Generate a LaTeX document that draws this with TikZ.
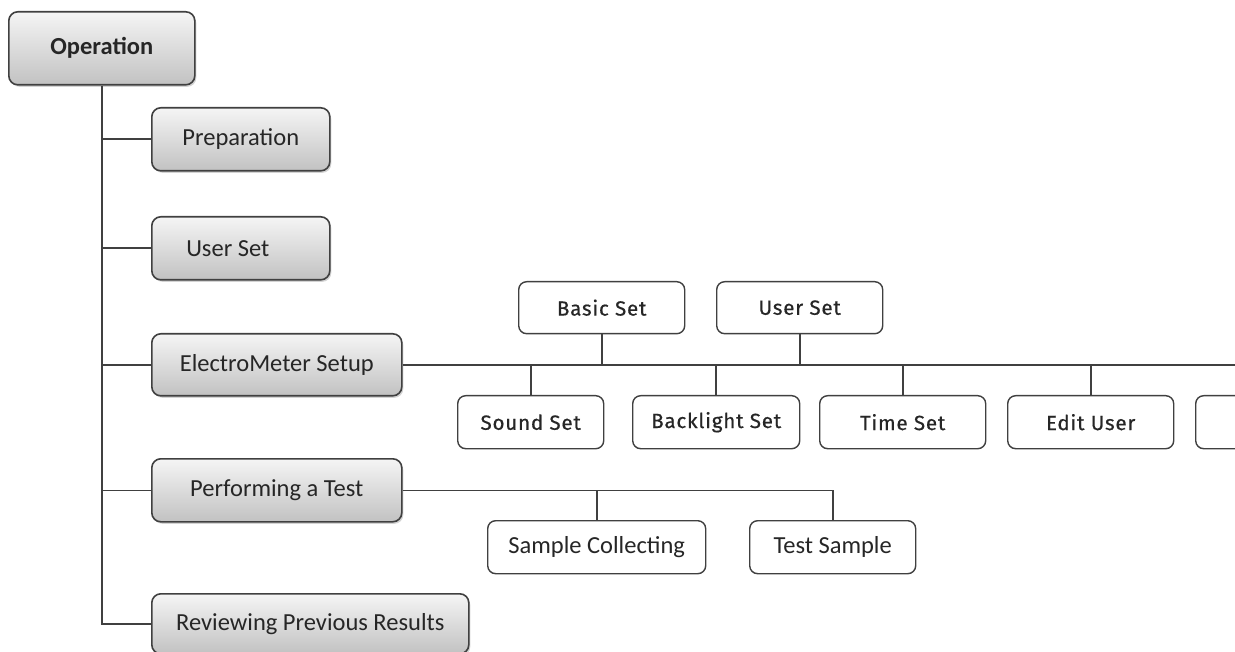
\documentclass[tikz,border=0pt]{standalone}
\usepackage{fontspec}
\setmainfont{Carlito}
\newfontfamily\rowfont[LetterSpace=4,UprightFeatures={FakeBold=0.6}]{Fira Sans}
\usetikzlibrary{shadows}
\tikzset{
  base/.style={rounded corners=9pt, line width=1.6pt, draw=black!75, inner sep=0pt, anchor=north west, text=black!85},
  gbox/.style={base, top color=black!4, bottom color=black!24, drop shadow={shadow xshift=1.5pt, shadow yshift=-2pt, opacity=0.35}, font=\fontsize{24.5}{28}\selectfont},
  wbox/.style={base, fill=white, line width=1.4pt, rounded corners=8pt},
  rowbox/.style={wbox, font=\rowfont\fontsize{20.5}{24}\selectfont},
  tbox/.style={wbox, font=\fontsize{24.5}{28}\selectfont},
  conn/.style={line width=1.6pt, draw=black!75},
}
\begin{document}
\begin{tikzpicture}[x=1pt,y=-1pt]
\useasboundingbox (0,0) rectangle (1235,652);
\clip (0,0) rectangle (1235,652);
% main column
\node[gbox, minimum width=186, minimum height=73] (op) at (8,11) {\bfseries Operation};
\node[gbox, minimum width=178, minimum height=63] (prep) at (151,107) {Preparation};
\node[gbox, minimum width=178, minimum height=63] (us) at (151,216) {\hspace*{-26pt}User Set};
\node[gbox, minimum width=250, minimum height=62] (em) at (151,333) {ElectroMeter Setup};
\node[gbox, minimum width=250, minimum height=63] (pt) at (151,458) {Performing a Test};
\node[gbox, minimum width=317, minimum height=60] (rev) at (151,593) {Reviewing Previous Results};
% electrometer children
\node[rowbox, minimum width=166, minimum height=52] (basic) at (518,281) {Basic Set};
\node[rowbox, minimum width=166, minimum height=52] (us2) at (716,281) {User Set};
\node[rowbox, minimum width=146, minimum height=53] (sound) at (457,395) {Sound Set};
\node[rowbox, minimum width=167, minimum height=53] (back) at (632,395) {Backlight Set};
\node[rowbox, minimum width=166, minimum height=53] (time) at (819,395) {Time Set};
\node[rowbox, minimum width=166, minimum height=53] (edit) at (1007,395) {Edit User};
\node[rowbox, minimum width=166, minimum height=53] (more) at (1195,395) {};
% test children
\node[tbox, minimum width=218, minimum height=53] (samp) at (487,520) {Sample Collecting};
\node[tbox, minimum width=166, minimum height=53] (tsamp) at (749,520) {Test Sample};
\coordinate (rend) at (1240,363);
% trunk
\draw[conn] (op.south) -- (op.south |- rev.west) -- (rev.west);
\foreach \n in {prep,us,em,pt} \draw[conn] (op.south |- \n.west) -- (\n.west);
% electrometer bus
\draw[conn] (em.east) -- (em.east -| rend);
\foreach \n in {basic,us2} \draw[conn] (\n.south) -- (\n.south |- em.east);
\foreach \n in {sound,back,time,edit} \draw[conn] (\n.north) -- (\n.north |- em.east);
% test bus
\draw[conn] (pt.east) -- (pt.east -| tsamp.north) -- (tsamp.north);
\draw[conn] (samp.north) -- (samp.north |- pt.east);
\end{tikzpicture}
\end{document}
